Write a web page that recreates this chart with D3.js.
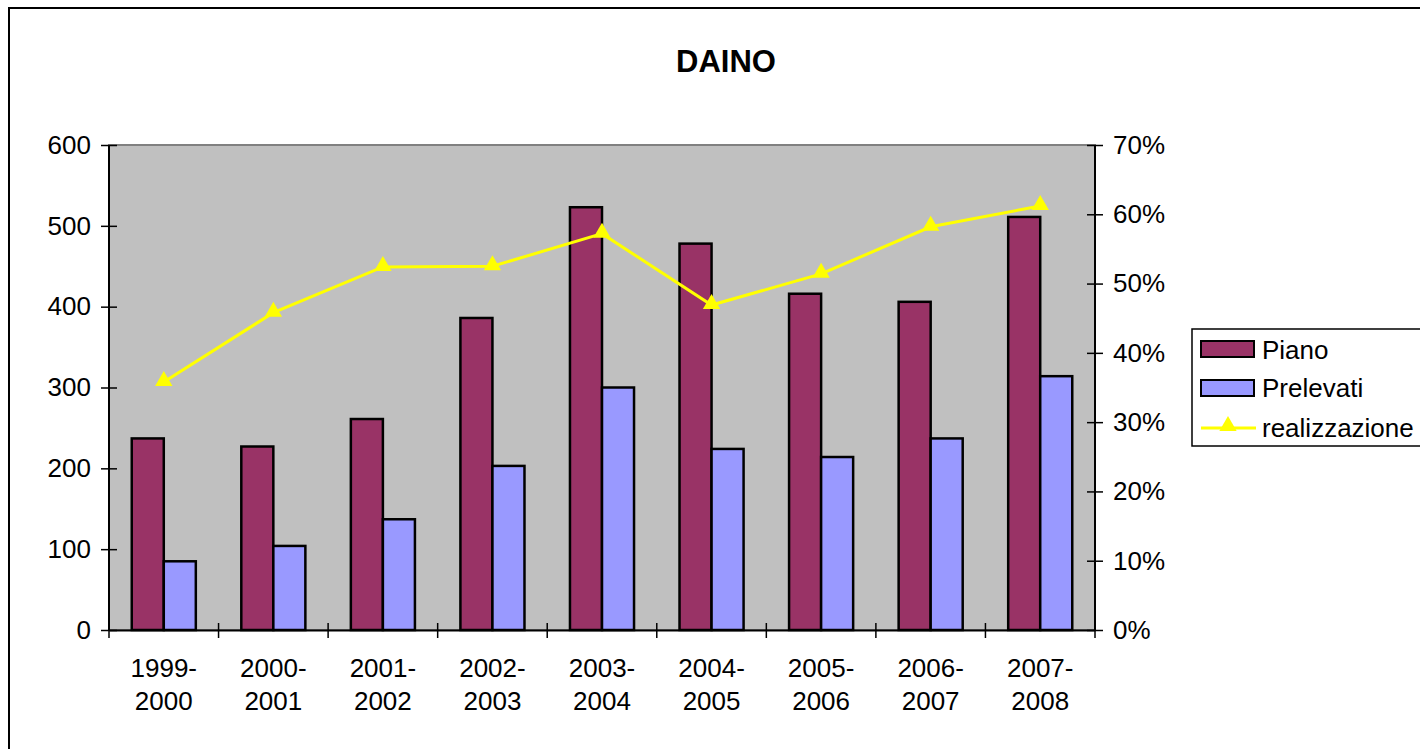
<!DOCTYPE html>
<html>
<head>
<meta charset="utf-8">
<script src="https://cdn.jsdelivr.net/npm/d3@7"></script>
<style>
  body { margin: 0; background: #fff; }
  svg text { font-family: "Liberation Sans", Arial, sans-serif; fill: #000; }
</style>
</head>
<body>
<svg id="chart" width="1420" height="749"></svg>
<script>
// data
var seasons = ['1999-2000', '2000-2001', '2001-2002', '2002-2003', '2003-2004',
               '2004-2005', '2005-2006', '2006-2007', '2007-2008'];
var piano = [237, 227, 261, 386, 523, 478, 416, 406, 511];
var prelevati = [85, 104, 137, 203, 300, 224, 214, 237, 314];
var realizzazione = [0.358, 0.458, 0.524, 0.525, 0.572, 0.469, 0.514, 0.582, 0.612];
var leftTicks = [0, 100, 200, 300, 400, 500, 600];
var rightTicks = [0, 0.1, 0.2, 0.3, 0.4, 0.5, 0.6, 0.7];

var svg = d3.select('#chart');
var fs = 26;

// plot box (not named "top": that is window.top)
var plotL = 109, plotR = 1095, plotT = 145, plotB = 630;

// outer chart border
svg.append('rect')
  .attr('x', 9).attr('y', 8).attr('width', 1430).attr('height', 760)
  .attr('fill', '#fff').attr('stroke', '#000').attr('stroke-width', 2);

svg.append('text')
  .attr('x', 726).attr('y', 72)
  .attr('text-anchor', 'middle')
  .style('font-size', '31px').style('font-weight', 'bold')
  .text('DAINO');

var x = d3.scaleBand().domain(seasons).range([plotL, plotR]);
var xs = d3.scaleBand().domain(['piano', 'prelevati'])
  .range([0, x.bandwidth()]).paddingInner(0).paddingOuter(0.71);
var y = d3.scaleLinear().domain([0, 600]).range([plotB, plotT]);
var y2 = d3.scaleLinear().domain([0, 0.7]).range([plotB, plotT]);

svg.append('rect')
  .attr('x', plotL).attr('y', plotT).attr('width', plotR - plotL).attr('height', plotB - plotT)
  .attr('fill', '#c0c0c0').attr('stroke', '#808080').attr('stroke-width', 2);

// bars
var groups = svg.append('g').selectAll('g')
  .data(seasons).join('g')
  .attr('transform', function (d) { return 'translate(' + x(d) + ',0)'; });

groups.append('rect')
  .attr('x', xs('piano')).attr('width', xs.bandwidth())
  .attr('y', function (d, i) { return y(piano[i]); })
  .attr('height', function (d, i) { return y(0) - y(piano[i]); })
  .attr('fill', '#993366').attr('stroke', '#000').attr('stroke-width', 2.5);

groups.append('rect')
  .attr('x', xs('prelevati')).attr('width', xs.bandwidth())
  .attr('y', function (d, i) { return y(prelevati[i]); })
  .attr('height', function (d, i) { return y(0) - y(prelevati[i]); })
  .attr('fill', '#9999ff').attr('stroke', '#000').attr('stroke-width', 2.5);

// axes
var leftAxis = d3.axisLeft(y).tickValues(leftTicks).tickSize(8).tickPadding(10);
var gl = svg.append('g').attr('transform', 'translate(' + plotL + ',0)').call(leftAxis);

var rightAxis = d3.axisRight(y2).tickValues(rightTicks).tickSize(8).tickPadding(10)
  .tickFormat(d3.format('.0%'));
var gr = svg.append('g').attr('transform', 'translate(' + plotR + ',0)').call(rightAxis);

var bottomAxis = d3.axisBottom(x).tickSize(0).tickFormat('');
var gb = svg.append('g').attr('transform', 'translate(0,' + plotB + ')').call(bottomAxis);

[gl, gr, gb].forEach(function (g) {
  g.select('.domain').attr('stroke', '#000').attr('stroke-width', 2);
  g.selectAll('.tick line').attr('stroke', '#000').attr('stroke-width', 1.5);
  g.selectAll('text').style('font-size', fs + 'px').attr('fill', '#000')
    .style('font-family', '"Liberation Sans", Arial, sans-serif');
});
gl.select('.domain').attr('d', 'M0,' + plotT + 'V' + plotB);
gr.select('.domain').attr('d', 'M0,' + plotT + 'V' + plotB);
gl.selectAll('.tick line').attr('x2', 8).attr('x1', -8);
gr.selectAll('.tick line').attr('x1', -8).attr('x2', 8);

// category ticks crossing the x axis
var catEdges = seasons.map(function (d) { return x(d); }).concat([plotR]);
svg.append('g').selectAll('line').data(catEdges).join('line')
  .attr('x1', function (d) { return d; }).attr('x2', function (d) { return d; })
  .attr('y1', plotB - 7).attr('y2', plotB + 8)
  .attr('stroke', '#000').attr('stroke-width', 1.5);

// two-line category labels
var lab = svg.append('g').selectAll('text').data(seasons).join('text')
  .attr('text-anchor', 'middle')
  .style('font-size', fs + 'px');
lab.append('tspan')
  .attr('x', function (d) { return x(d) + x.bandwidth() / 2; })
  .attr('y', 677)
  .text(function (d) { return d.split('-')[0] + '-'; });
lab.append('tspan')
  .attr('x', function (d) { return x(d) + x.bandwidth() / 2; })
  .attr('y', 710)
  .text(function (d) { return d.split('-')[1]; });

// line on the right axis
var line = d3.line()
  .x(function (d, i) { return x(seasons[i]) + x.bandwidth() / 2; })
  .y(function (d) { return y2(d); });
svg.append('path').datum(realizzazione)
  .attr('d', line).attr('fill', 'none')
  .attr('stroke', '#ffff00').attr('stroke-width', 3);

var tri = d3.symbol().type(d3.symbolTriangle).size(130);
svg.append('g').selectAll('path').data(realizzazione).join('path')
  .attr('d', tri)
  .attr('transform', function (d, i) {
    return 'translate(' + (x(seasons[i]) + x.bandwidth() / 2) + ',' + (y2(d) - 1) + ')';
  })
  .attr('fill', '#ffff00');

// legend
var lg = svg.append('g');
lg.append('rect')
  .attr('x', 1192).attr('y', 329).attr('width', 240).attr('height', 117)
  .attr('fill', '#fff').attr('stroke', '#000').attr('stroke-width', 1.5);
lg.append('rect').attr('x', 1201).attr('y', 341).attr('width', 53).attr('height', 16)
  .attr('fill', '#993366').attr('stroke', '#000').attr('stroke-width', 2);
lg.append('rect').attr('x', 1201).attr('y', 380).attr('width', 53).attr('height', 16)
  .attr('fill', '#9999ff').attr('stroke', '#000').attr('stroke-width', 2);
lg.append('line').attr('x1', 1201).attr('x2', 1256).attr('y1', 428).attr('y2', 428)
  .attr('stroke', '#ffff00').attr('stroke-width', 3);
lg.append('path').attr('d', tri).attr('transform', 'translate(1228,426)').attr('fill', '#ffff00');
var legendNames = ['Piano', 'Prelevati', 'realizzazione'];
var legendY = [359, 397, 437];
lg.selectAll('text.lt').data(legendNames).join('text')
  .attr('class', 'lt')
  .attr('x', 1262).attr('y', function (d, i) { return legendY[i]; })
  .style('font-size', fs + 'px')
  .text(function (d) { return d; });
</script>
</body>
</html>
